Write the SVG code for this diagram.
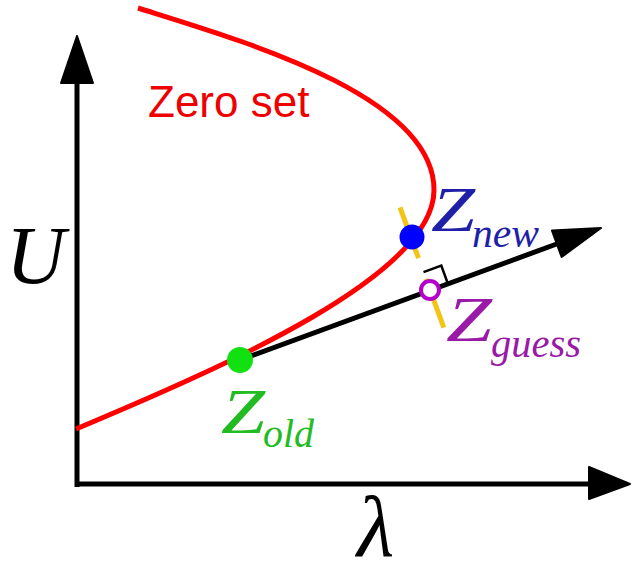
<svg xmlns="http://www.w3.org/2000/svg" width="632" height="561" viewBox="0 0 632 561">
<style>
.ax{stroke:#000;stroke-width:5;fill:none}
.head{fill:#000;stroke:#000;stroke-width:2;stroke-linejoin:round}
.math{font-family:"Liberation Serif","Times New Roman",serif;font-style:italic}
.big{font-size:64px}
.sub{font-size:40px}
</style>
<rect width="632" height="561" fill="#fff"/>
<g id="axes">
<line class="ax" x1="77" y1="487" x2="77" y2="80"/>
<polygon class="head" points="77,36 61,83 93,83"/>
<line class="ax" x1="75" y1="484" x2="592" y2="484"/>
<polygon class="head" points="630,484 589,467 589,499"/>
</g>
<g id="connectors">
<path id="zero-set" d="M76,429 C226,366 434,275 434,190 C434,95 240,40 138,8" fill="none" stroke="#ff0000" stroke-width="5"/>
<line x1="400" y1="207.4" x2="443.8" y2="327.6" stroke="#f2c418" stroke-width="5" stroke-dasharray="54 22"/>
<line x1="240" y1="360" x2="558" y2="243.5" stroke="#000" stroke-width="5"/>
<polygon class="head" points="601,228 552,230.6 561.6,257"/>
<polyline points="423.5,272.2 441.3,265.6 447.8,283.5" fill="none" stroke="#000" stroke-width="2.5"/>
</g>
<g id="z-old"><circle cx="240" cy="360" r="13" fill="#11e011"/></g>
<g id="z-new"><circle cx="412" cy="237" r="12.5" fill="#0000ff"/></g>
<g id="z-guess"><circle cx="430" cy="290" r="9" fill="#fff" stroke="#b400c8" stroke-width="4"/></g>
<g id="labels">
<text x="148" y="117" font-family="Liberation Sans, Arial, sans-serif" font-size="44" fill="#ee0000">Zero set</text>
<g fill="#1f1fa8" class="math">
<text class="big" x="431" y="231" textLength="44" lengthAdjust="spacingAndGlyphs">Z</text>
<text class="sub" x="472" y="247" textLength="67" lengthAdjust="spacingAndGlyphs">new</text>
</g>
<g fill="#9a1aa8" class="math">
<text class="big" x="446" y="341" textLength="46" lengthAdjust="spacingAndGlyphs">Z</text>
<text class="sub" x="491" y="357" textLength="90" lengthAdjust="spacingAndGlyphs">guess</text>
</g>
<g fill="#22bb22" class="math">
<text class="big" x="221" y="433" textLength="44" lengthAdjust="spacingAndGlyphs">Z</text>
<text class="sub" x="263" y="447" textLength="51" lengthAdjust="spacingAndGlyphs">old</text>
</g>
<text class="math" x="6" y="283" font-size="82" fill="#000">U</text>
<text class="math" x="357" y="556" font-size="86" fill="#000">λ</text>
</g>
</svg>
